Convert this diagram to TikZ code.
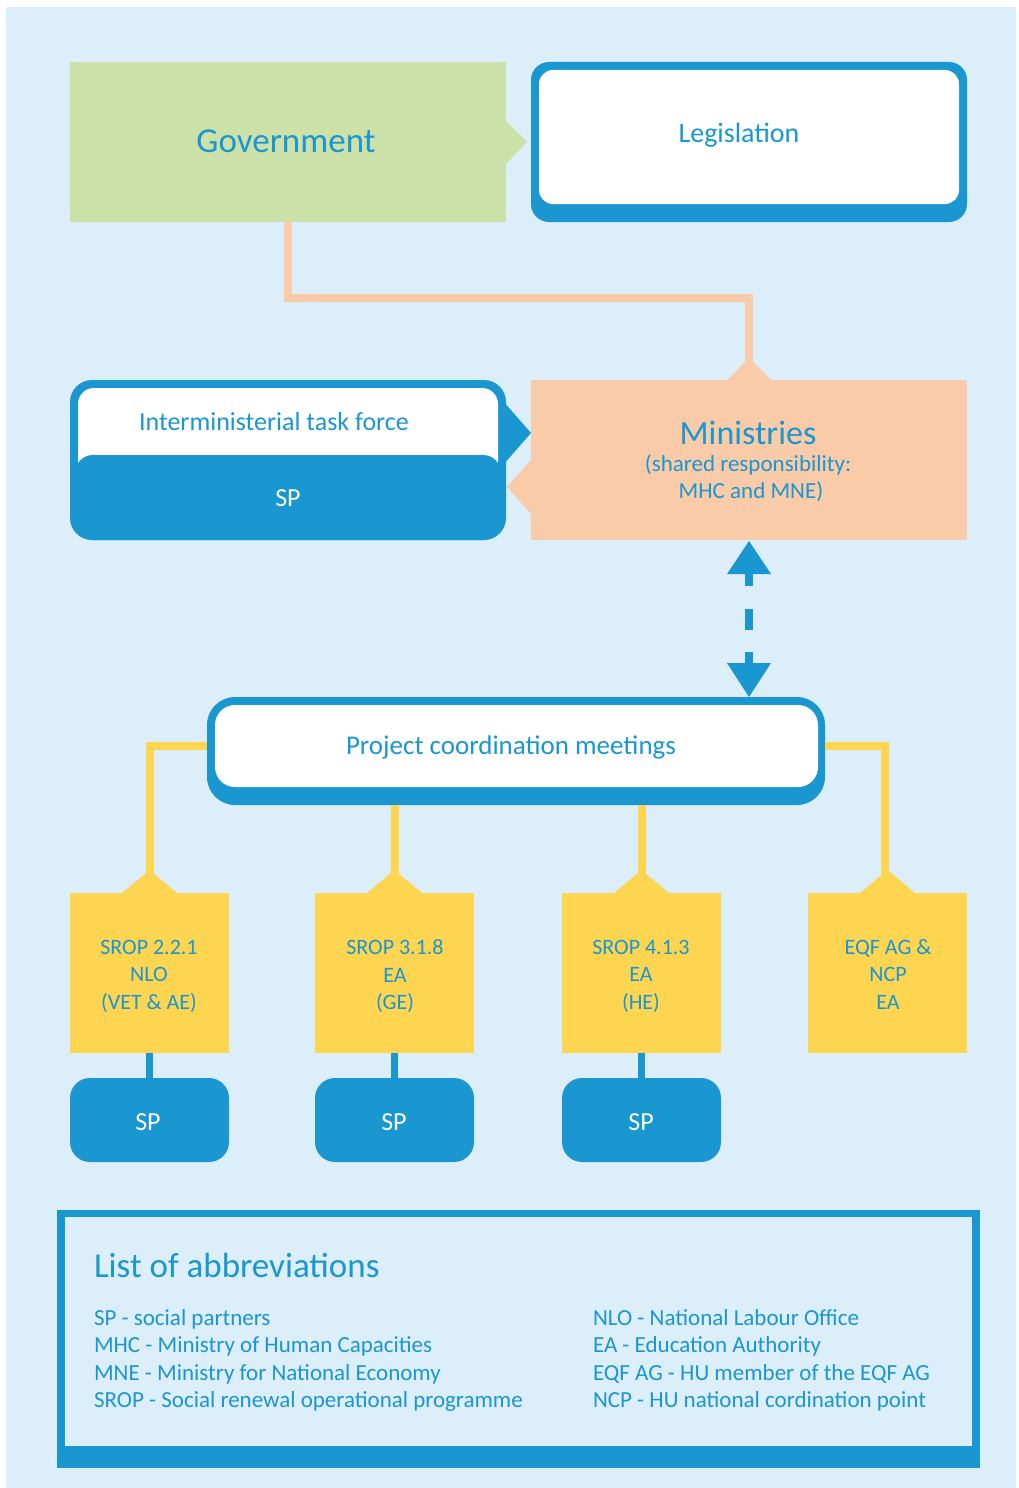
\documentclass[tikz,border=0pt]{standalone}
\usepackage{fontspec}
\setmainfont{Carlito}
\usetikzlibrary{calc}
\definecolor{bg}{HTML}{DCEEFA}
\definecolor{cblue}{HTML}{1A96D1}
\definecolor{cgreen}{HTML}{CCE1A8}
\definecolor{cpeach}{HTML}{FACBA8}
\definecolor{cyellow}{HTML}{FDD551}
\newcommand{\fs}[1]{\fontsize{#1}{#1}\selectfont}
\begin{document}
\begin{tikzpicture}[x=1pt,y=-1pt,
  box/.style={inner sep=0pt,outer sep=0pt,anchor=north west,text=cblue},
  txt/.style={inner sep=0pt,outer sep=0pt,text=cblue},
  ybox/.style={box,fill=cyellow,minimum width=159pt,minimum height=160pt},
  ytxt/.style={txt,align=center,font=\fontsize{22}{27.5}\selectfont},
  spbox/.style={box,fill=cblue,rounded corners=20pt,minimum width=159pt,minimum height=84pt},
  sptxt/.style={txt,text=white,font=\fs{26}},
  yline/.style={draw=cyellow,line width=8pt},
  bline/.style={draw=cblue,line width=7pt},
  legtxt/.style={txt,anchor=base west,font=\fs{23}}]
\useasboundingbox (0,0) rectangle (1018,1488);
\fill[white] (0,0) rectangle (1018,1488);
\fill[bg] (6,7) rectangle (1016,1488);

% Government
\node[box,fill=cgreen,minimum width=436pt,minimum height=160pt] (gov) at (70,62) {};
\node[txt,font=\fs{35}] (govt) at (286,141) {Government};
\fill[cgreen] ($(gov.east)+(0,-21)$) -- ($(gov.east)+(21,0)$) -- ($(gov.east)+(0,22)$) -- cycle;

% Legislation
\node[box,fill=cblue,rounded corners=18pt,minimum width=436pt,minimum height=160pt] (leg) at (531,62) {};
\fill[white,rounded corners=14pt] (539,70) rectangle (959,204);
\node[txt,font=\fs{28}] (legt) at (739,135) {Legislation};

% Ministries
\node[box,fill=cpeach,minimum width=436pt,minimum height=160pt] (min) at (531,380) {};
\draw[cpeach,line width=8pt] (gov.south) -- ++(0,76) -| (min.north);
\fill[cpeach] ($(min.north)+(-22,0.5)$) -- ($(min.north)+(0,-22)$) -- ($(min.north)+(23,0.5)$) -- cycle;
\node[txt,font=\fs{34}] (mint) at (748,433) {Ministries};
\node[txt,font=\fs{23}] (mint2) at (748,465) {(shared responsibility:};
\node[txt,font=\fs{23}] (mint3) at (751,492) {MHC and MNE)};

% Interministerial task force
\node[box,fill=cblue,rounded corners=22pt,minimum width=436pt,minimum height=160pt] (tf) at (70,380) {};
\fill[white,rounded corners=16pt] (78,388) rectangle (498,478);
\fill[cblue,rounded corners=18pt] (75,455) rectangle (501,540);
\node[txt,font=\fs{26}] (tft) at (274,422) {Interministerial task force};
\node[txt,text=white,font=\fs{26}] (tfsp) at (288,498) {SP};
\fill[cblue] (503,401) -- (531,433) -- (503,465) -- cycle;
\fill[cpeach] (min.west |- 0,460) -- (507,487) -- (min.west |- 0,514) -- cycle;

% Project coordination meetings
\node[box,fill=cblue,rounded corners=28pt,minimum width=618pt,minimum height=108pt] (pcm) at (207,697) {};
\fill[white,rounded corners=20pt] (215,705) rectangle (818,787);
\node[txt,font=\fs{27}] (pcmt) at (511,747) {Project coordination meetings};

% dashed double arrow
\coordinate (up) at (min.south);
\coordinate (dn) at (min.south |- pcm.north);
\fill[cblue] ($(up)+(-22,34)$) -- ($(up)+(0,1)$) -- ($(up)+(22,34)$) -- cycle;
\fill[cblue] ($(up)+(-4,33)$) rectangle ($(up)+(4,46)$);
\fill[cblue] ($(up)+(-4,69)$) rectangle ($(up)+(4,90)$);
\fill[cblue] ($(dn)+(-4,-45)$) rectangle ($(dn)+(4,-33)$);
\fill[cblue] ($(dn)+(-22,-34)$) -- (dn) -- ($(dn)+(22,-34)$) -- cycle;

% yellow boxes
\node[ybox] (y1) at (70,893) {};
\node[ybox] (y2) at (315,893) {};
\node[ybox] (y3) at (562,893) {};
\node[ybox] (y4) at (808,893) {};
\node[ytxt] (y1t) at (149,976) {SROP 2.2.1\\NLO\\(VET \& AE)};
\node[ytxt] (y2t) at (395,976) {SROP 3.1.8\\EA\\(GE)};
\node[ytxt] (y3t) at (641,976) {SROP 4.1.3\\EA\\(HE)};
\node[ytxt] (y4t) at (888,974) {EQF AG \&\\NCP\\EA};

\draw[yline] ($(pcm.west)+(0,-5)$) -| (y1.north);
\draw[yline] ($(pcm.east)+(0,-5)$) -| ($(y4.north)+(-3,0)$);
\draw[yline] (y2.north |- pcm.south) -- (y2.north);
\draw[yline] (y3.north |- pcm.south) -- (y3.north);
\foreach \n in {y1,y2,y3,y4}{
  \fill[cyellow] ($(\n.north)+(-28,0.5)$) -- ($(\n.north)+(0,-23)$) -- ($(\n.north)+(28,0.5)$) -- cycle;
}

% SP boxes
\node[spbox] (sp1) at (70,1078) {};
\node[spbox] (sp2) at (315,1078) {};
\node[spbox] (sp3) at (562,1078) {};
\node[sptxt] (sp1t) at (148,1122) {SP};
\node[sptxt] (sp2t) at (394,1122) {SP};
\node[sptxt] (sp3t) at (641,1122) {SP};
\draw[bline] (y1.south) -- (sp1.north);
\draw[bline] (y2.south) -- (sp2.north);
\draw[bline] (y3.south) -- (sp3.north);

% legend
\fill[cblue] (57,1210) rectangle (980,1468);
\fill[bg] (64.5,1217) rectangle (972,1446);
\node[txt,anchor=base west,font=\fs{35}] (lt) at (94,1277) {List of abbreviations};
\node[legtxt] (l1) at (94,1325) {SP - social partners};
\node[legtxt] (l2) at (94,1352.5) {MHC - Ministry of Human Capacities};
\node[legtxt] (l3) at (94,1380) {MNE - Ministry for National Economy};
\node[legtxt] (l4) at (94,1407.5) {SROP - Social renewal operational programme};
\node[legtxt] (r1) at (593,1325) {NLO - National Labour Office};
\node[legtxt] (r2) at (593,1352.5) {EA - Education Authority};
\node[legtxt] (r3) at (593,1380) {EQF AG - HU member of the EQF AG};
\node[legtxt] (r4) at (593,1407.5) {NCP - HU national cordination point};
\end{tikzpicture}
\end{document}
